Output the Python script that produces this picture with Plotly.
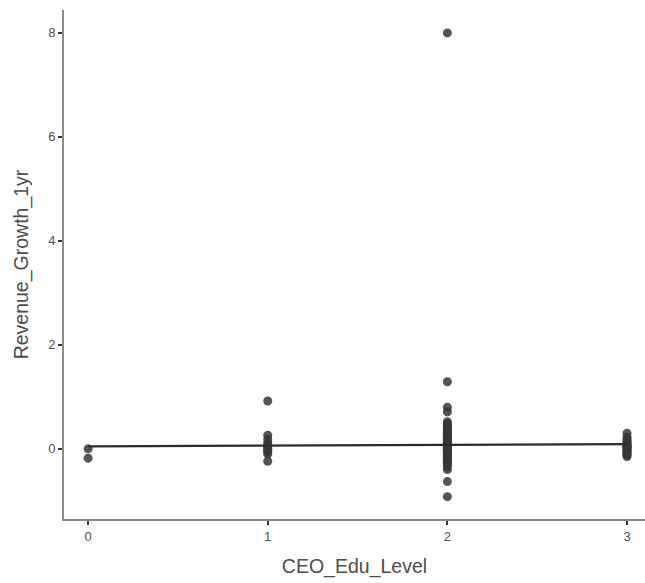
import plotly.graph_objects as go

# Observed one-year revenue growth by CEO education level
edu_0 = [0.0, -0.18]
edu_1 = [0.92, 0.26, 0.18, 0.12, 0.08, 0.05, 0.02, 0.0, -0.03, -0.06, -0.10, -0.24]
edu_2 = [8.0, 1.29, 0.80, 0.71, 0.52, 0.48, 0.45, 0.42, 0.40, 0.37, 0.35, 0.33,
         0.31, 0.29, 0.27, 0.25, 0.23, 0.21, 0.20, 0.18, 0.17, 0.15, 0.14, 0.12,
         0.11, 0.10, 0.09, 0.08, 0.07, 0.06, 0.05, 0.04, 0.03, 0.02, 0.01, 0.0,
         -0.01, -0.02, -0.03, -0.04, -0.05, -0.06, -0.08, -0.10, -0.12, -0.14,
         -0.16, -0.18, -0.20, -0.22, -0.25, -0.28, -0.31, -0.35, -0.40, -0.63, -0.92]
edu_3 = [0.30, 0.22, 0.18, 0.15, 0.12, 0.10, 0.08, 0.06, 0.05, 0.03, 0.02, 0.0,
         -0.02, -0.04, -0.06, -0.08, -0.10, -0.12, -0.15]

# Linear fit across education levels
fit_x = [0, 3]
fit_y = [0.045, 0.092]

groups = [(0, edu_0), (1, edu_1), (2, edu_2), (3, edu_3)]
xs, ys = [], []
for lvl, vals in groups:
    xs += [lvl] * len(vals)
    ys += vals

FONT = "Liberation Sans, Arial, sans-serif"

fig = go.Figure()
fig.add_trace(go.Scatter(
    x=xs, y=ys, mode="markers",
    marker=dict(size=9, color="rgba(55,55,55,0.85)", line=dict(width=0)),
    showlegend=False, hoverinfo="x+y",
))
fig.add_trace(go.Scatter(
    x=fit_x, y=fit_y, mode="lines",
    line=dict(color="#2b2b2b", width=2.2),
    showlegend=False,
))

axis_common = dict(
    showgrid=False, zeroline=False,
    showline=True, linecolor="#8a8a8a", linewidth=2,
    ticks="outside", ticklen=4, tickwidth=1.5, tickcolor="#333333",
    tickfont=dict(family=FONT, size=13, color="#4d4d4d"),
)

fig.update_layout(
    width=645, height=583,
    margin=dict(l=64, r=0, t=10, b=64),
    paper_bgcolor="white", plot_bgcolor="white",
    xaxis=dict(
        range=[-0.134, 3.10], tickvals=[0, 1, 2, 3],
        title=dict(text="CEO_Edu_Level", standoff=17,
                   font=dict(family=FONT, size=19.5, color="#4d4d4d")),
        **axis_common,
    ),
    yaxis=dict(
        range=[-1.35, 8.44], tickvals=[0, 2, 4, 6, 8],
        title=dict(text="Revenue_Growth_1yr", standoff=14,
                   font=dict(family=FONT, size=19.5, color="#4d4d4d")),
        **axis_common,
    ),
)

fig.write_html("out.html")
